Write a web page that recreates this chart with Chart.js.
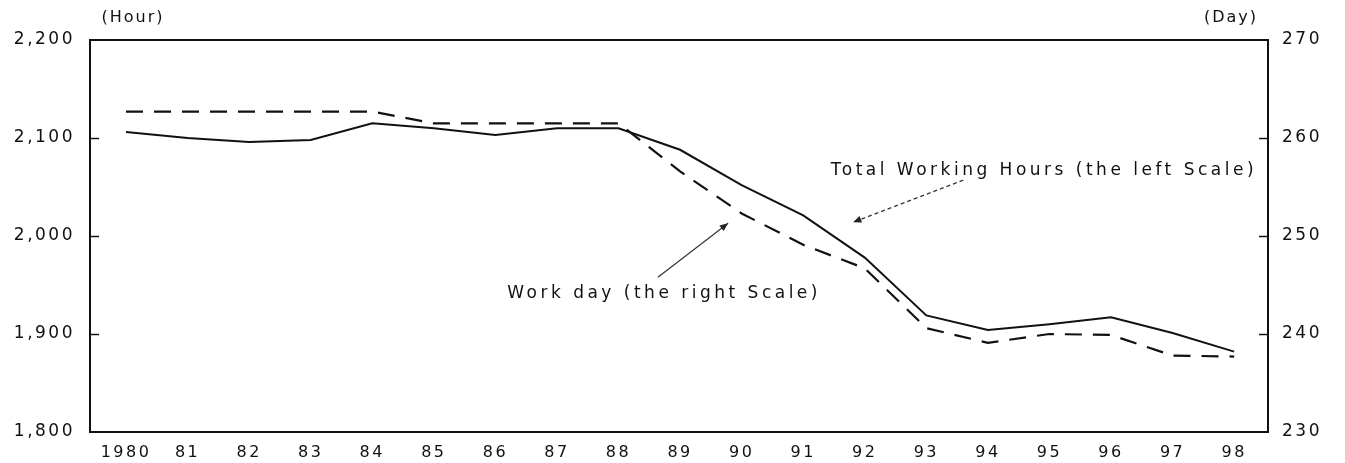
<!DOCTYPE html>
<html><head><meta charset="utf-8">
<script src="https://cdn.jsdelivr.net/npm/chart.js@4.4.1/dist/chart.umd.min.js"></script>
<style>html,body{margin:0;padding:0;background:#fff;}#wrap{width:1345px;height:463px;}</style>
</head><body><div id="wrap"><canvas id="c" width="1345" height="463"></canvas></div>
<script>
const years = ['1980','81','82','83','84','85','86','87','88','89','90','91','92','93','94','95','96','97','98'];
const totalHours = [2106,2100,2096,2098,2115,2110,2103,2110,2110,2088,2052,2021,1978,1919,1904,1910,1917,1901,1882];
const workDays = [262.7,262.7,262.7,262.7,262.7,261.5,261.5,261.5,261.5,256.6,252.3,249.1,246.7,240.6,239.1,240.0,239.9,237.8,237.7];
const leftTicks = [1800,1900,2000,2100,2200];
const rightTicks = [230,240,250,260,270];
const FONT = '"DejaVu Sans", sans-serif';
const TXT = '#111';

const annotations = {
  total: {text:'Total Working Hours (the left Scale)', x:14.91, y:2067, from:[13.6,2057], to:[11.81,2014], dash:[4,3]},
  work: {text:'Work day (the right Scale)', x:8.74, y:1941, from:[8.64,1958], to:[9.78,2013], dash:[]}
};

const framePlugin = {
  id:'frame',
  beforeDraw(chart){ chart.ctx.letterSpacing = '2.5px'; },
  afterDraw(chart){
    const {ctx, chartArea:a, scales} = chart;
    ctx.save();
    ctx.strokeStyle = '#111'; ctx.lineWidth = 2;
    ctx.strokeRect(a.left, a.top, a.right-a.left, a.bottom-a.top);
    ctx.lineWidth = 1.5;
    leftTicks.slice(1,-1).forEach(v=>{const y=Math.round(scales.y.getPixelForValue(v))+0.5;ctx.beginPath();ctx.moveTo(a.left,y);ctx.lineTo(a.left+9,y);ctx.stroke();});
    rightTicks.slice(1,-1).forEach(v=>{const y=Math.round(scales.y1.getPixelForValue(v))+0.5;ctx.beginPath();ctx.moveTo(a.right,y);ctx.lineTo(a.right-9,y);ctx.stroke();});
    // units
    ctx.fillStyle = TXT; ctx.font = '16px '+FONT; ctx.letterSpacing='2px';
    ctx.textAlign='center'; ctx.textBaseline='middle';
    ctx.fillText('(Hour)', a.left+43, 18);
    ctx.fillText('(Day)', a.right-37, 18);
    // annotations
    ctx.font = '17px '+FONT; ctx.letterSpacing='3.5px';
    Object.values(annotations).forEach(an=>{
      const px = scales.x.getPixelForValue(an.x), py = scales.y.getPixelForValue(an.y);
      ctx.fillText(an.text, px, py);
      const x1=scales.x.getPixelForValue(an.from[0]), y1=scales.y.getPixelForValue(an.from[1]);
      const x2=scales.x.getPixelForValue(an.to[0]), y2=scales.y.getPixelForValue(an.to[1]);
      ctx.strokeStyle='#333'; ctx.lineWidth=1.2; ctx.setLineDash(an.dash);
      ctx.beginPath(); ctx.moveTo(x1,y1); ctx.lineTo(x2,y2); ctx.stroke(); ctx.setLineDash([]);
      const ang=Math.atan2(y2-y1,x2-x1), L=9, w=0.4;
      ctx.fillStyle='#222'; ctx.beginPath(); ctx.moveTo(x2,y2);
      ctx.lineTo(x2-L*Math.cos(ang-w), y2-L*Math.sin(ang-w));
      ctx.lineTo(x2-L*Math.cos(ang+w), y2-L*Math.sin(ang+w)); ctx.closePath(); ctx.fill();
      ctx.fillStyle=TXT;
    });
    ctx.restore();
  }
};

new Chart(document.getElementById('c'), {
  type:'line',
  data:{datasets:[
    {label:'Total Working Hours', data: totalHours.map((v,i)=>({x:i,y:v})), yAxisID:'y', borderColor:'#111', borderWidth:2, pointRadius:0, tension:0},
    {label:'Work day', data: workDays.map((v,i)=>({x:i,y:v})), yAxisID:'y1', borderColor:'#111', borderWidth:2.2, borderDash:[17,11], pointRadius:0, tension:0}
  ]},
  options:{
    responsive:false, animation:false,
    layout:{padding:{left:0,right:0,top:40,bottom:0}},
    plugins:{legend:{display:false}, tooltip:{enabled:false}},
    scales:{
      x:{type:'linear', min:-0.585, max:18.55, grid:{display:false, drawTicks:false}, border:{display:false},
         afterBuildTicks(s){ s.ticks = years.map((_,i)=>({value:i})); },
         afterFit(s){ s.height = 31; },
         ticks:{padding:11, color:TXT, font:{family:FONT,size:16}, maxRotation:0, autoSkip:false, callback:(v)=>years[v]}},
      y:{position:'left', min:1800, max:2200, grid:{display:false, drawTicks:false}, border:{display:false},
         afterBuildTicks(s){ s.ticks = leftTicks.map(v=>({value:v})); },
         afterFit(s){ s.width = 90; },
         ticks:{padding:15, color:TXT, font:{family:FONT,size:17}, callback:(v)=>v.toLocaleString('en-US')}},
      y1:{position:'right', min:230, max:270, grid:{display:false, drawTicks:false}, border:{display:false},
         afterBuildTicks(s){ s.ticks = rightTicks.map(v=>({value:v})); },
         afterFit(s){ s.width = 77; },
         ticks:{padding:14, color:TXT, font:{family:FONT,size:17}}}
    }
  },
  plugins:[framePlugin]
});
</script></body></html>
